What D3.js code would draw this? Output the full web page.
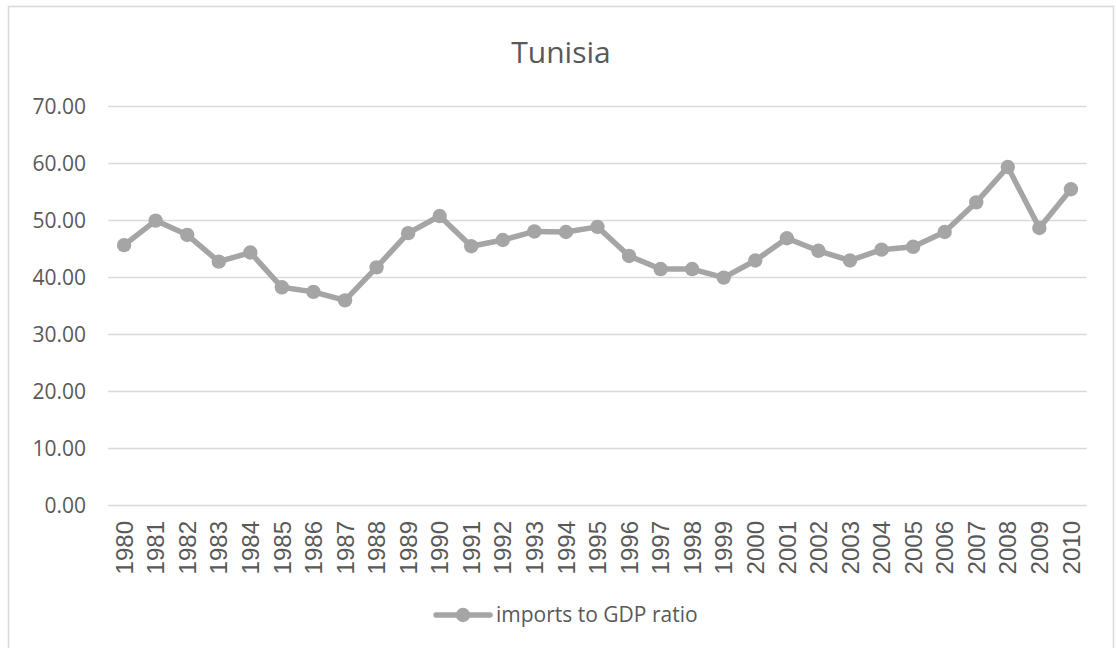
<!DOCTYPE html>
<html>
<head>
<meta charset="utf-8">
<script src="https://cdn.jsdelivr.net/npm/d3@7"></script>
<style>
  html, body { margin: 0; padding: 0; background: #ffffff; }
  svg { display: block; }
</style>
</head>
<body>
<svg id="chart" width="1116" height="648"></svg>
<script>
// Imports to GDP ratio, Tunisia, 1980–2010
const years = [1980, 1981, 1982, 1983, 1984, 1985, 1986, 1987, 1988, 1989,
               1990, 1991, 1992, 1993, 1994, 1995, 1996, 1997, 1998, 1999,
               2000, 2001, 2002, 2003, 2004, 2005, 2006, 2007, 2008, 2009, 2010];
const importsRatio = [45.7, 50.0, 47.5, 42.8, 44.4, 38.3, 37.5, 36.0, 41.8, 47.8,
                      50.8, 45.5, 46.6, 48.1, 48.0, 48.9, 43.8, 41.5, 41.5, 40.0,
                      43.0, 46.9, 44.7, 43.0, 44.9, 45.4, 48.0, 53.2, 59.4, 48.7, 55.5];
const yTicks = [0, 10, 20, 30, 40, 50, 60, 70];
const chartTitle = "Tunisia";
const seriesName = "imports to GDP ratio";

const svg = d3.select("#chart");
const grey = "#a5a5a5";
const textColor = "#595959";
const gridColor = "#d9d9d9";

// Outer chart frame
svg.append("rect")
  .attr("x", 8.5).attr("y", 6.5)
  .attr("width", 1105).attr("height", 645)
  .attr("fill", "#ffffff")
  .attr("stroke", gridColor)
  .attr("stroke-width", 1.5);

const plot = { left: 108.3, right: 1086.7, top: 106.6, bottom: 505.6 };

const x = d3.scaleBand()
  .domain(years)
  .range([plot.left, plot.right])
  .padding(0);

const y = d3.scaleLinear()
  .domain([0, 70])
  .range([plot.bottom, plot.top]);

// Horizontal gridlines
svg.append("g")
  .selectAll("line")
  .data(yTicks)
  .join("line")
  .attr("x1", plot.left).attr("x2", plot.right)
  .attr("y1", d => y(d)).attr("y2", d => y(d))
  .attr("stroke", gridColor)
  .attr("stroke-width", 1.5);

// Y axis labels
const yAxis = d3.axisLeft(y).tickValues(yTicks).tickFormat(d3.format(".2f")).tickSize(0).tickPadding(0);
const gy = svg.append("g")
  .attr("transform", `translate(${86},0)`)
  .call(yAxis);
gy.select(".domain").remove();
gy.selectAll("text")
  .attr("fill", textColor)
  .attr("font-family", "'Open Sans', sans-serif")
  .attr("font-size", 21);

// X axis labels, rotated
const xAxis = d3.axisBottom(x).tickSize(0).tickPadding(0);
const gx = svg.append("g")
  .attr("transform", `translate(0,${521})`)
  .call(xAxis);
gx.select(".domain").remove();
gx.selectAll("text")
  .attr("fill", textColor)
  .attr("font-family", "'Liberation Sans', Arial, sans-serif")
  .attr("font-size", 24)
  .attr("transform", "rotate(-90)")
  .attr("text-anchor", "end")
  .attr("x", 0)
  .attr("y", 0)
  .attr("dy", "0.36em");

// Series line and markers
const cx = d => x(d) + x.bandwidth() / 2;
const line = d3.line()
  .x((d, i) => cx(years[i]))
  .y(d => y(d));

svg.append("path")
  .datum(importsRatio)
  .attr("d", line)
  .attr("fill", "none")
  .attr("stroke", grey)
  .attr("stroke-width", 5.5)
  .attr("stroke-linejoin", "round");

svg.append("g")
  .selectAll("circle")
  .data(importsRatio)
  .join("circle")
  .attr("cx", (d, i) => cx(years[i]))
  .attr("cy", d => y(d))
  .attr("r", 7.2)
  .attr("fill", grey);

// Title
svg.append("text")
  .attr("x", 561).attr("y", 62.5)
  .attr("text-anchor", "middle")
  .attr("fill", textColor)
  .attr("font-family", "'Open Sans', sans-serif")
  .attr("font-size", 30)
  .text(chartTitle);

// Legend
const legend = svg.append("g").attr("transform", "translate(436,615)");
legend.append("line")
  .attr("x1", 0).attr("x2", 54)
  .attr("y1", 0).attr("y2", 0)
  .attr("stroke", grey)
  .attr("stroke-width", 5.5)
  .attr("stroke-linecap", "round");
legend.append("circle")
  .attr("cx", 27).attr("cy", 0).attr("r", 7.2)
  .attr("fill", grey);
legend.append("text")
  .attr("x", 60).attr("y", 0)
  .attr("dy", "0.33em")
  .attr("fill", textColor)
  .attr("font-family", "'Open Sans', sans-serif")
  .attr("font-size", 21)
  .text(seriesName);
</script>
</body>
</html>
